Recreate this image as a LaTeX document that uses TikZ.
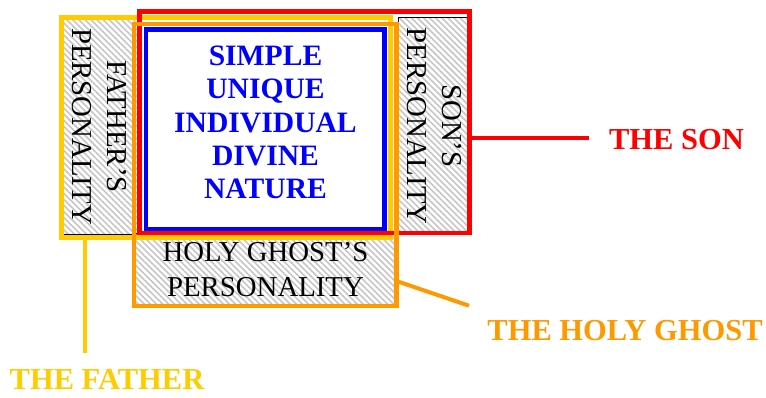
\documentclass[tikz,border=0pt]{standalone}
\usepackage{fontspec}
\setmainfont{Liberation Serif}
\usetikzlibrary{patterns.meta}
\definecolor{fyellow}{HTML}{FFCC00}
\definecolor{sred}{HTML}{FF0000}
\definecolor{horange}{HTML}{FF9900}
\definecolor{nblue}{HTML}{0000FF}
\tikzset{
  box/.style={rectangle, inner sep=0pt, outer sep=0pt, anchor=north west},
  hatchbox/.style={box, draw=black, line width=0.9pt,
    pattern={Lines[angle=-45,distance=4.3pt,line width=1.6pt]}, pattern color=gray!45},
  personbox/.style={box, line width=4.5pt},
  perstext/.style={align=center, font=\fontsize{28.8}{34.5}\selectfont, inner sep=0pt},
  label/.style={font=\fontsize{30.5}{33}\bfseries\selectfont, inner sep=0pt},
  conn/.style={line width=4pt}
}
\begin{document}
\begin{tikzpicture}[x=1pt,y=-1pt]
\useasboundingbox (0,0) rectangle (766,397);
% hatched personality regions
\node[hatchbox, minimum width=78pt, minimum height=217pt] (fpers) at (62,17) {};
\node[hatchbox, minimum width=71pt, minimum height=216pt] (spers) at (398,17) {};
\node[hatchbox, minimum width=263pt, minimum height=73pt] (hpers) at (134,233) {};
% divine nature
\node[box, draw=nblue, fill=white, line width=4.5pt, minimum width=238.5pt, minimum height=199.5pt] (nature) at (146,29.5) {};
\node[align=center, text=nblue, font=\fontsize{29.6}{33.3}\bfseries\selectfont, inner sep=0pt] (naturetext) at (265.5,122.5)
  {SIMPLE\\UNIQUE\\INDIVIDUAL\\DIVINE\\NATURE};
% persons
\node[personbox, draw=fyellow, minimum width=329pt, minimum height=220pt] (father) at (61.5,17.5) {};
\node[personbox, draw=sred, minimum width=330pt, minimum height=221.5pt] (son) at (139.5,11.5) {};
\node[personbox, draw=horange, minimum width=262.7pt, minimum height=282pt] (ghost) at (134,24) {};
% personality texts
\node[perstext, rotate=-90] (ftext) at (99.5,126.5) {FATHER’S\\PERSONALITY};
\node[perstext, rotate=-90] (stext) at (434.5,126) {SON’S\\PERSONALITY};
\node[perstext] (htext) at (265.5,269.5) {HOLY GHOST’S\\PERSONALITY};
% labels
\node[label, text=fyellow] (flabel) at (107,379) {THE FATHER};
\node[label, text=sred] (slabel) at (676.5,139.5) {THE SON};
\node[label, text=horange] (hlabel) at (625,331) {THE HOLY GHOST};
% connector ends
\coordinate (fa) at (85,239);
\coordinate (fb) at (85,353);
\coordinate (sa) at (471,137.7);
\coordinate (sb) at (589,137.7);
\coordinate (ha) at (398.5,281.7);
\coordinate (hb) at (469,305.7);
\draw[conn, fyellow] (fa) -- (fb);
\draw[conn, sred] (sa) -- (sb);
\draw[conn, horange] (ha) -- (hb);
\end{tikzpicture}
\end{document}
